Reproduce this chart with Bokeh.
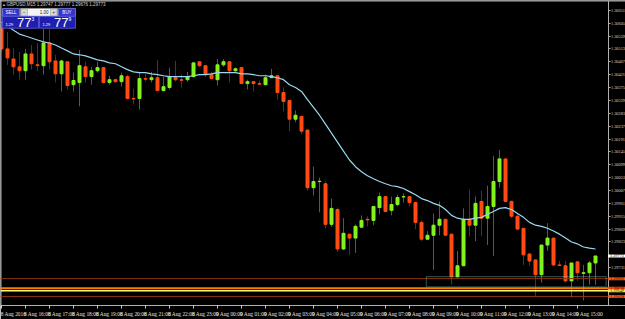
from bokeh.plotting import figure
from bokeh.models import (Range1d, FixedTicker, Span, BoxAnnotation, Label, ColumnDataSource,
                          LinearAxis)
from bokeh.core.properties import value
from bokeh.embed import file_html
from bokeh.resources import INLINE

# ---------------- data (GBPUSD, M15, 8 Aug 2016 15:00 -> 9 Aug 2016 15:45) ----------------
opens = [1.30587, 1.30513, 1.30477, 1.30449, 1.30435, 1.30495, 1.30456, 1.30453, 1.30534, 1.30470,
         1.30424, 1.30467, 1.30385, 1.30393, 1.30449, 1.30414, 1.30435, 1.30446, 1.30393, 1.30403,
         1.30396, 1.30414, 1.30336, 1.30336, 1.30407, 1.30403, 1.30410, 1.30364, 1.30375, 1.30410,
         1.30403, 1.30403, 1.30414, 1.30467, 1.30453, 1.30421, 1.30403, 1.30456, 1.30467, 1.30435,
         1.30446, 1.30389, 1.30396, 1.30389, 1.30385, 1.30410, 1.30417, 1.30357, 1.30329, 1.30262,
         1.30272, 1.30223, 1.30017, 1.30039, 1.30031, 1.29886, 1.29939, 1.29798, 1.29851, 1.29837,
         1.29876, 1.29904, 1.29900, 1.29946, 1.29985, 1.29936, 1.29957, 1.29984, 1.29985, 1.29964,
         1.29893, 1.29833, 1.29847, 1.29883, 1.29904, 1.29851, 1.29699, 1.29738, 1.29904, 1.29883,
         1.29968, 1.29908, 1.29950, 1.30039, 1.30120, 1.29968, 1.29915, 1.29872, 1.29780, 1.29759,
         1.29706, 1.29812, 1.29837, 1.29741, 1.29738, 1.29684, 1.29752, 1.29711, 1.29713, 1.29748]
highs = [1.30601, 1.30573, 1.30516, 1.30502, 1.30513, 1.30527, 1.30534, 1.30584, 1.30584, 1.30492,
         1.30474, 1.30467, 1.30428, 1.30509, 1.30467, 1.30449, 1.30467, 1.30449, 1.30417, 1.30407,
         1.30428, 1.30421, 1.30371, 1.30431, 1.30424, 1.30431, 1.30474, 1.30414, 1.30446, 1.30470,
         1.30421, 1.30431, 1.30467, 1.30470, 1.30453, 1.30431, 1.30477, 1.30477, 1.30467, 1.30446,
         1.30449, 1.30403, 1.30396, 1.30400, 1.30421, 1.30442, 1.30417, 1.30375, 1.30329, 1.30293,
         1.30272, 1.30223, 1.30092, 1.30053, 1.30039, 1.29978, 1.29946, 1.29908, 1.29851, 1.29886,
         1.29918, 1.29915, 1.29950, 1.30000, 1.29985, 1.29985, 1.29992, 1.29996, 1.29985, 1.29964,
         1.29900, 1.29862, 1.29925, 1.29968, 1.29904, 1.29851, 1.29791, 1.29943, 1.30010, 1.29985,
         1.30007, 1.30024, 1.30131, 1.30152, 1.30120, 1.29971, 1.29922, 1.29872, 1.29780, 1.29759,
         1.29812, 1.29890, 1.29837, 1.29755, 1.29755, 1.29748, 1.29752, 1.29741, 1.29755, 1.29773]
lows = [1.30502, 1.30456, 1.30421, 1.30403, 1.30403, 1.30439, 1.30435, 1.30421, 1.30439, 1.30393,
        1.30361, 1.30368, 1.30361, 1.30308, 1.30393, 1.30385, 1.30428, 1.30389, 1.30385, 1.30393,
        1.30378, 1.30332, 1.30315, 1.30297, 1.30396, 1.30393, 1.30364, 1.30361, 1.30368, 1.30396,
        1.30375, 1.30396, 1.30410, 1.30449, 1.30414, 1.30403, 1.30382, 1.30449, 1.30393, 1.30431,
        1.30389, 1.30368, 1.30361, 1.30385, 1.30385, 1.30410, 1.30332, 1.30290, 1.30219, 1.30251,
        1.30208, 1.30007, 1.29989, 1.29929, 1.29872, 1.29876, 1.29787, 1.29794, 1.29777, 1.29784,
        1.29872, 1.29879, 1.29883, 1.29922, 1.29932, 1.29918, 1.29950, 1.29964, 1.29950, 1.29869,
        1.29826, 1.29830, 1.29723, 1.29847, 1.29847, 1.29670, 1.29695, 1.29738, 1.29844, 1.29826,
        1.29844, 1.29812, 1.29773, 1.30017, 1.29968, 1.29908, 1.29865, 1.29741, 1.29738, 1.29628,
        1.29677, 1.29791, 1.29738, 1.29738, 1.29677, 1.29624, 1.29684, 1.29614, 1.29670, 1.29670]
closes = [1.30513, 1.30481, 1.30449, 1.30435, 1.30495, 1.30460, 1.30454, 1.30534, 1.30467, 1.30424,
          1.30470, 1.30382, 1.30400, 1.30453, 1.30414, 1.30435, 1.30446, 1.30393, 1.30403, 1.30396,
          1.30417, 1.30336, 1.30334, 1.30407, 1.30405, 1.30410, 1.30364, 1.30378, 1.30414, 1.30403,
          1.30401, 1.30414, 1.30463, 1.30453, 1.30421, 1.30407, 1.30456, 1.30467, 1.30435, 1.30442,
          1.30389, 1.30396, 1.30389, 1.30387, 1.30410, 1.30417, 1.30357, 1.30325, 1.30262, 1.30276,
          1.30219, 1.30017, 1.30039, 1.30040, 1.29886, 1.29943, 1.29798, 1.29854, 1.29837, 1.29879,
          1.29900, 1.29902, 1.29950, 1.29985, 1.29932, 1.29957, 1.29982, 1.29985, 1.29964, 1.29893,
          1.29833, 1.29847, 1.29883, 1.29904, 1.29847, 1.29699, 1.29738, 1.29904, 1.29883, 1.29961,
          1.29908, 1.29950, 1.30039, 1.30120, 1.29968, 1.29915, 1.29869, 1.29777, 1.29755, 1.29706,
          1.29812, 1.29837, 1.29741, 1.29739, 1.29684, 1.29748, 1.29713, 1.29713, 1.29748, 1.29773]
ma_values = [1.30608, 1.30594, 1.30580, 1.30566, 1.30559, 1.30552, 1.30545, 1.30538, 1.30534, 1.30527,
             1.30516, 1.30506, 1.30495, 1.30492, 1.30488, 1.30481, 1.30474, 1.30470, 1.30463, 1.30460,
             1.30449, 1.30439, 1.30431, 1.30428, 1.30428, 1.30424, 1.30421, 1.30417, 1.30414, 1.30414,
             1.30414, 1.30414, 1.30417, 1.30421, 1.30421, 1.30424, 1.30428, 1.30428, 1.30428, 1.30428,
             1.30424, 1.30424, 1.30421, 1.30417, 1.30417, 1.30414, 1.30410, 1.30403, 1.30385, 1.30375,
             1.30361, 1.30332, 1.30304, 1.30276, 1.30244, 1.30212, 1.30180, 1.30148, 1.30116, 1.30092,
             1.30074, 1.30060, 1.30049, 1.30039, 1.30031, 1.30024, 1.30021, 1.30014, 1.30003, 1.29992,
             1.29978, 1.29971, 1.29961, 1.29954, 1.29939, 1.29918, 1.29908, 1.29904, 1.29904, 1.29908,
             1.29911, 1.29922, 1.29932, 1.29943, 1.29946, 1.29939, 1.29925, 1.29911, 1.29893, 1.29883,
             1.29879, 1.29872, 1.29862, 1.29851, 1.29837, 1.29823, 1.29816, 1.29805, 1.29801, 1.29798]

hour_labels = ["8 Aug 2016", "8 Aug 16:00", "8 Aug 17:00", "8 Aug 18:00", "8 Aug 19:00",
               "8 Aug 20:00", "8 Aug 21:00", "8 Aug 22:00", "8 Aug 23:00", "9 Aug 00:00",
               "9 Aug 01:00", "9 Aug 02:00", "9 Aug 03:00", "9 Aug 04:00", "9 Aug 05:00",
               "9 Aug 06:00", "9 Aug 07:00", "9 Aug 08:00", "9 Aug 09:00", "9 Aug 10:00",
               "9 Aug 11:00", "9 Aug 12:00", "9 Aug 13:00", "9 Aug 14:00", "9 Aug 15:00"]
bars_per_hour = 4

price_ticks = [1.30651, 1.30605, 1.30559, 1.30513, 1.30467, 1.30421, 1.30375, 1.30329, 1.30283,
               1.30237, 1.30191, 1.30145, 1.30099, 1.30053, 1.30007, 1.29961, 1.29915, 1.29869,
               1.29823, 1.29731, 1.29593]

level_prices = [1.29692, 1.29658, 1.29649, 1.29628]
zone_top, zone_bottom, zone_start_bar = 1.29699, 1.29663, 70.8

title_text = "GBPUSD,M15  1.29747 1.29777 1.29676 1.29773"
bid_price, ask_price = "1.29773", "1.29779"
lot_size = "1.00"

# ---------------- styles ----------------
UP_BODY, DN_BODY = "#84F21C", "#FF4A12"
UP_WICK, DN_WICK = "#0F8A0F", "#A00D0D"
MA_COLOR = "#9BD8F0"
level_colors = ["#8C3310", "#FF7A00", "#FFFF70", "#8C3310"]
level_widths = [1, 2, 1.5, 1]
label_bgs = ["#FF5A14", "#FF4A12", "#FFF050", "#FF5A14"]
FONT = "Liberation Sans"
AXFONT = "Liberation Sans Narrow"
AXSIZE = "4.3px"

n = len(opens)
idx = list(range(n))
up = [c >= o for o, c in zip(opens, closes)]
src = ColumnDataSource(dict(
    x=idx, o=opens, h=highs, l=lows, c=closes,
    top=[max(o, c) for o, c in zip(opens, closes)],
    bot=[min(o, c) for o, c in zip(opens, closes)],
    body=[UP_BODY if u else DN_BODY for u in up],
    wick=[UP_WICK if u else DN_WICK for u in up],
))

W, FH = 625, 308
PX_PER_BAR = 6
X0 = -1 / 6
X_END = X0 + W / PX_PER_BAR           # frame spans the full width
X_AXIS = X0 + 607.5 / PX_PER_BAR      # price scale line position
p = figure(width=W, height=319, output_backend="svg", toolbar_location=None,
           x_range=Range1d(X0, X_END),
           y_range=Range1d(1.29596, 1.30686),
           y_axis_location=None,
           background_fill_color="black", border_fill_color="black",
           min_border_left=0, min_border_top=0, min_border_right=0, min_border_bottom=0,
           outline_line_color=None)
p.grid.visible = False
p.extra_x_ranges = {"px": Range1d(0, W)}
p.extra_y_ranges = {"px": Range1d(FH, 0)}

# frame borders (top & left)
p.add_layout(Span(location=1.30686, dimension="width", line_color="#B0B0B0", line_width=2))
p.add_layout(Span(location=X0, dimension="height", line_color="#B0B0B0", line_width=2))

# horizontal levels
for pr, col, w in zip(level_prices, level_colors, level_widths):
    p.add_layout(Span(location=pr, dimension="width", line_color=col, line_width=w))

# rectangle zone
p.add_layout(BoxAnnotation(left=zone_start_bar, right=X_AXIS - 0.3, top=zone_top, bottom=zone_bottom,
                           fill_alpha=0, line_color="#8FF0E0", line_width=1.2))

# candles
p.segment(x0="x", y0="h", x1="x", y1="l", source=src, line_color="wick", line_width=1)
p.vbar(x="x", width=0.5, top="top", bottom="bot", source=src,
       fill_color="body", line_color="body", line_width=1)

# moving average
p.line(idx, ma_values, line_color=MA_COLOR, line_width=1.2)

# price axis (fixed at the price-scale line)
ya = LinearAxis(fixed_location=X_AXIS)
ya.ticker = FixedTicker(ticks=price_ticks)
ya.major_label_overrides = {t: f"{t:.5f}" for t in price_ticks}
ya.major_label_text_font = AXFONT
ya.major_label_text_font_size = AXSIZE
ya.major_label_text_color = "#D8D8D8"
ya.axis_line_color = "#B0B0B0"
ya.major_tick_line_color = "#B0B0B0"
ya.major_tick_out = 2
ya.major_tick_in = 0
ya.minor_tick_line_color = None
ya.major_label_standoff = 1
p.add_layout(ya, "right")

xa = p.xaxis[0]
hour_ticks = [k * bars_per_hour for k in range(len(hour_labels))]
label_ticks = [t + 2 for t in hour_ticks]
xa.ticker = FixedTicker(ticks=label_ticks, minor_ticks=hour_ticks)
xa.major_label_overrides = {t: lab for t, lab in zip(label_ticks, hour_labels)}
xa.major_label_text_font = AXFONT
xa.major_label_text_font_size = "5.4px"
xa.major_label_text_color = "#E0E0E0"
xa.axis_line_color = "#B0B0B0"
xa.major_tick_out = 0
xa.major_tick_in = 0
xa.minor_tick_out = 3
xa.minor_tick_in = 0
xa.minor_tick_line_color = "#D0D0D0"
xa.major_label_standoff = 2

# right side price tags
for pr, bg in zip(level_prices, label_bgs):
    p.add_layout(Label(x=X_AXIS, y=pr, x_offset=0, text=f"{pr:.5f}",
                       text_font=AXFONT, text_font_size=AXSIZE, text_color="#201000",
                       text_baseline="middle", background_fill_color=bg,
                       padding=(2, 0)))
p.add_layout(Label(x=X_AXIS, y=closes[-1], x_offset=0, text=f"{closes[-1]:.5f}",
                   text_font=AXFONT, text_font_size=AXSIZE, text_color="black",
                   text_baseline="middle", background_fill_color="white", padding=(2, 0)))

# title
p.text(x=[6], y=[4], text=[title_text], x_range_name="px", y_range_name="px",
       text_font=value(FONT), text_font_size="4.5px", text_color="#D0D0D0",
       text_baseline="middle")
p.text(x=[1.5], y=[4], text=["▲"], x_range_name="px", y_range_name="px",
       text_font=value(FONT), text_font_size="4px", text_color="#C0C0C0",
       text_baseline="middle")

# one-click trading panel
p.quad(left=[2, 58], right=[19, 75], top=[8, 8], bottom=[16, 16],
       x_range_name="px", y_range_name="px",
       fill_color="#3434C8", line_color="#8080F0", line_width=0.8)
p.quad(left=[20], right=[57], top=[8], bottom=[16], x_range_name="px", y_range_name="px",
       fill_color="#F4F4F4", line_color="#A0A0A0", line_width=0.8)
p.quad(left=[20.5, 50], right=[27, 56.5], top=[8.5, 8.5], bottom=[15.5, 15.5],
       x_range_name="px", y_range_name="px",
       fill_color="#D8D8D8", line_color="#A0A0A0", line_width=0.6)
p.quad(left=[2, 39], right=[38, 75], top=[16, 16], bottom=[28, 28],
       x_range_name="px", y_range_name="px",
       fill_color="#1E1EB0", line_color="#6060E0", line_width=0.8)
p.text(x=[10.5, 66.5], y=[12, 12], text=["SELL", "BUY"], x_range_name="px", y_range_name="px",
       text_font=value(FONT), text_font_size="4.5px", text_color="white",
       text_align="center", text_baseline="middle")
p.text(x=[23.7, 53.2], y=[12, 12], text=["−", "+"], x_range_name="px", y_range_name="px",
       text_font=value(FONT), text_font_size="5px", text_color="#404040",
       text_align="center", text_baseline="middle")
p.text(x=[48], y=[12], text=[lot_size], x_range_name="px", y_range_name="px",
       text_font=value(FONT), text_font_size="4.5px", text_color="#202020",
       text_align="right", text_baseline="middle")
p.text(x=[5, 42], y=[24.5, 24.5], text=[bid_price[:4], ask_price[:4]],
       x_range_name="px", y_range_name="px",
       text_font=value(FONT), text_font_size="4px", text_color="white",
       text_baseline="middle")
p.text(x=[16.5, 53.5], y=[22.5, 22.5], text=[bid_price[4:6], ask_price[4:6]],
       x_range_name="px", y_range_name="px",
       text_font=value(FONT), text_font_size="13px", text_color="white",
       text_baseline="middle")
p.text(x=[31, 68], y=[19, 19], text=[bid_price[6:], ask_price[6:]],
       x_range_name="px", y_range_name="px",
       text_font=value(FONT), text_font_size="5px", text_color="white",
       text_baseline="middle")

open("out.html", "w").write(file_html(p, INLINE))
